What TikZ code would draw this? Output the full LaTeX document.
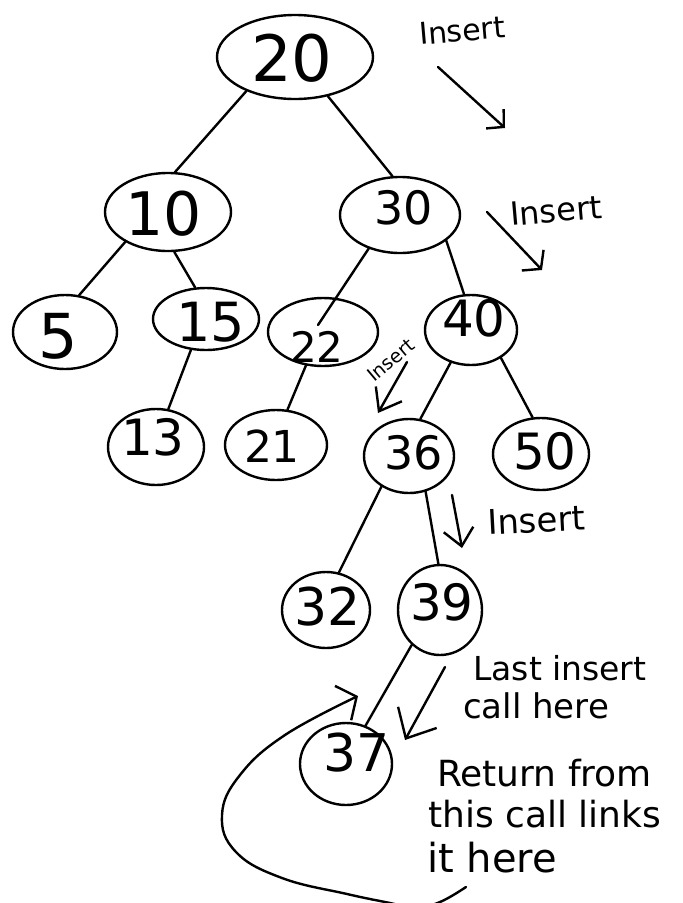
\documentclass[tikz,border=0pt]{standalone}
\usepackage{fontspec}
\setmainfont{DejaVu Sans}
\usetikzlibrary{shapes.geometric,arrows.meta}
\begin{document}
\begin{tikzpicture}[x=1pt,y=-1pt,
  bubble/.style={draw, ellipse, line width=2.4pt, inner sep=0pt},
  ink/.style={line width=2.4pt, line cap=round, line join=round},
  digits/.style={inner sep=0pt, font=\fontsize{#1}{#1}\selectfont},
  note/.style={inner sep=0pt, anchor=base west, font=\fontsize{#1}{#1}\selectfont},
  pointer/.style 2 args={ink, -{Straight Barb[length=#1pt, width=#2pt]}}]
\useasboundingbox (0,0) rectangle (683,903);

% tree nodes: outlines
\node[bubble, minimum width=156pt, minimum height=84pt] (n20) at (295,57) {};
\node[bubble, minimum width=126pt, minimum height=78pt] (n10) at (168,212) {};
\node[bubble, minimum width=120pt, minimum height=76pt] (n30) at (400,215) {};
\node[bubble, minimum width=104pt, minimum height=74pt] (n5)  at (65,332) {};
\node[bubble, minimum width=106pt, minimum height=62pt] (n15) at (206,319) {};
\node[bubble, minimum width=110pt, minimum height=68pt] (n22) at (323,332) {};
\node[bubble, minimum width=92pt,  minimum height=70pt] (n40) at (471,330) {};
\node[bubble, minimum width=96pt,  minimum height=76pt] (n13) at (156,447) {};
\node[bubble, minimum width=102pt, minimum height=70pt] (n21) at (276,445) {};
\node[bubble, minimum width=90pt,  minimum height=74pt] (n36) at (409,456) {};
\node[bubble, minimum width=96pt,  minimum height=72pt] (n50) at (541,454) {};
\node[bubble, minimum width=88pt,  minimum height=76pt] (n32) at (326,610) {};
\node[bubble, minimum width=84pt,  minimum height=90pt] (n39) at (440,610) {};
\node[bubble, minimum width=92pt,  minimum height=82pt] (n37) at (346,764) {};

% tree nodes: keys
\node[digits=64] (t20) at (292,58) {20};
\node[digits=60] (t10) at (164,214) {10};
\node[digits=46] (t30) at (404,208) {30};
\node[digits=62] (t5)  at (58,336) {5};
\node[digits=54] (t15) at (211,322) {15};
\node[digits=42] (t22) at (317,347) {22};
\node[digits=50] (t40) at (474,318) {40};
\node[digits=50] (t13) at (153,437) {13};
\node[digits=44] (t21) at (272,446) {21};
\node[digits=46] (t36) at (414,453) {36};
\node[digits=50] (t50) at (545,451) {50};
\node[digits=52] (t32) at (328,607) {32};
\node[digits=50] (t39) at (442,602) {39};
\node[digits=52] (t37) at (357,753) {37};

% tree links
\draw[ink] (n20.-145) -- (n10.80);
\draw[ink] (n20.-50)  -- (n30.101);
\draw[ink] (n10.-145) -- (n5.69);
\draw[ink] (n10.-81)  -- (n15.109);
\draw[ink] (n30.-133) -- ([shift={(-5,-7)}]n22.center);
\draw[ink] (n30.-29)  -- (n40.101);
\draw[ink] (n22.-117) -- (n21.72);
\draw[ink] (n15.-116) -- (n13.72);
\draw[ink] (n40.-122) -- (n36.73);
\draw[ink] (n40.-43)  -- (n50.103);
\draw[ink] (n36.-132) -- (n32.71);
\draw[ink] (n36.-65)  -- (n39.92);
\draw[ink] (n39.-129) -- (n37.63);

% insert-call pointers
\coordinate (a1s) at (438,67);  \coordinate (a1e) at (505,128);
\coordinate (a2s) at (487,212); \coordinate (a2e) at (542,270);
\coordinate (a3s) at (407,362); \coordinate (a3e) at (378,413);
\coordinate (a4s) at (452,495); \coordinate (a4e) at (462,548);
\coordinate (a5s) at (445,667); \coordinate (a5e) at (405,740);
\draw[pointer={12}{26}] (a1s) -- (a1e);
\draw[pointer={12}{30}] (a2s) -- (a2e);
\draw[pointer={20}{30}] (a3s) -- (a3e);
\draw[pointer={17}{30}] (a4s) -- (a4e);
\draw[pointer={24}{44}] (a5s) -- (a5e);

% return path back up to the link
\coordinate (r1) at (466,887);
\coordinate (r2) at (358,696);
\draw[pointer={15}{38}] plot[smooth, tension=0.7] coordinates
  {(r1) (440,902) (415,908) (390,903) (347,894) (282,878) (236,852)
   (222,815) (240,775) (285,735) (r2)};

% annotations
\node[note=30, rotate=5] (i1) at (420,45) {Insert};
\node[note=32, rotate=5] (i2) at (511,226) {Insert};
\node[note=19, rotate=40] (i3) at (374,383) {Insert};
\node[note=34, rotate=3] (i4) at (488,535) {Insert};
\node[note=33] (c1) at (473,680) {Last insert};
\node[note=34] (c2) at (463,718) {call here};
\node[note=36] (c3) at (437,786) {Return from};
\node[note=36] (c4) at (428,827) {this call links};
\node[note=40] (c5) at (427,872) {it here};
\end{tikzpicture}
\end{document}
